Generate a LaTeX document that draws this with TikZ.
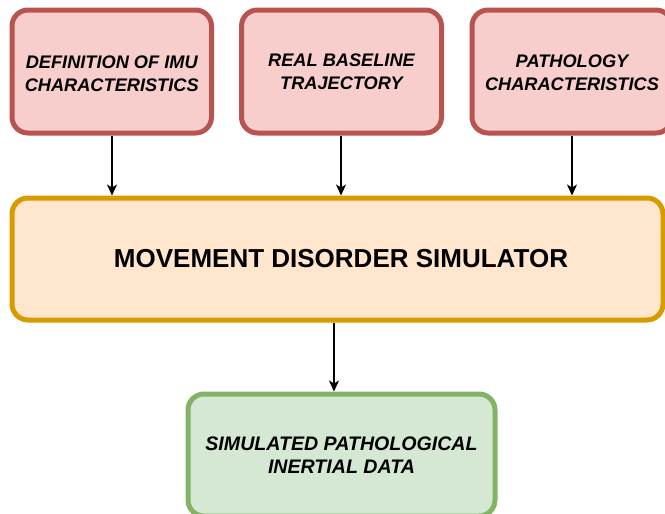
\documentclass[tikz,border=0pt]{standalone}
\usepackage{fontspec}
\setmainfont{Liberation Sans}
\usetikzlibrary{arrows.meta}
\definecolor{redfill}{HTML}{F8CECC}
\definecolor{redline}{HTML}{B85450}
\definecolor{orfill}{HTML}{FFE6CC}
\definecolor{orline}{HTML}{D79B00}
\definecolor{grfill}{HTML}{D5E8D4}
\definecolor{grline}{HTML}{82B366}
\tikzset{
  box/.style={draw, line width=5pt, rounded corners=16pt, align=center, inner sep=0pt},
  inbox/.style={box, fill=redfill, draw=redline, minimum height=123pt},
  intext/.style={align=center, inner sep=0pt, font=\fontsize{18.2}{23.2}\selectfont\bfseries\itshape},
  simbox/.style={box, fill=orfill, draw=orline},
  simtext/.style={inner sep=0pt, font=\fontsize{26}{30}\selectfont\bfseries},
  outbox/.style={box, fill=grfill, draw=grline, font=\fontsize{19.6}{23.5}\selectfont\bfseries\itshape},
  arr/.style={line width=1.4pt, -{Stealth[length=11pt,width=10pt,inset=3pt]}}
}
\begin{document}
\begin{tikzpicture}[x=1pt,y=-1pt]
\useasboundingbox (0,0) rectangle (665,514);
\node[inbox, minimum width=199.5pt] (b1) at (111.75,71.5) {};
\node[intext] (t1) at ([yshift=-2pt]b1.center) {DEFINITION OF IMU\\CHARACTERISTICS};
\node[inbox, minimum width=200pt] (b2) at (341.5,71.5) {};
\node[intext] (t2) at (b2.center) {REAL BASELINE\\TRAJECTORY};
\node[inbox, minimum width=200pt] (b3) at (572,71.5) {};
\node[intext] (t3) at ([yshift=-1.5pt]b3.center) {PATHOLOGY\\CHARACTERISTICS};
\node[simbox, minimum width=651pt, minimum height=122pt] (mid) at (337.5,259) {};
\node[simtext] (tm) at ([xshift=3.5pt]mid.center) {MOVEMENT DISORDER SIMULATOR};
\node[outbox, minimum width=307pt, minimum height=122pt] (bot) at (341.5,455) {SIMULATED PATHOLOGICAL\\INERTIAL DATA};
\draw[arr] ([xshift=0.25pt]b1.south) -- ([xshift=0.25pt]b1.south |- mid.north);
\draw[arr] ([xshift=-0.5pt]b2.south) -- ([xshift=-0.5pt]b2.south |- mid.north);
\draw[arr] (b3.south) -- (b3.south |- mid.north);
\coordinate (m) at ([xshift=-3.5pt]mid.south);
\draw[arr] (m) -- (m |- bot.north);
\end{tikzpicture}
\end{document}
